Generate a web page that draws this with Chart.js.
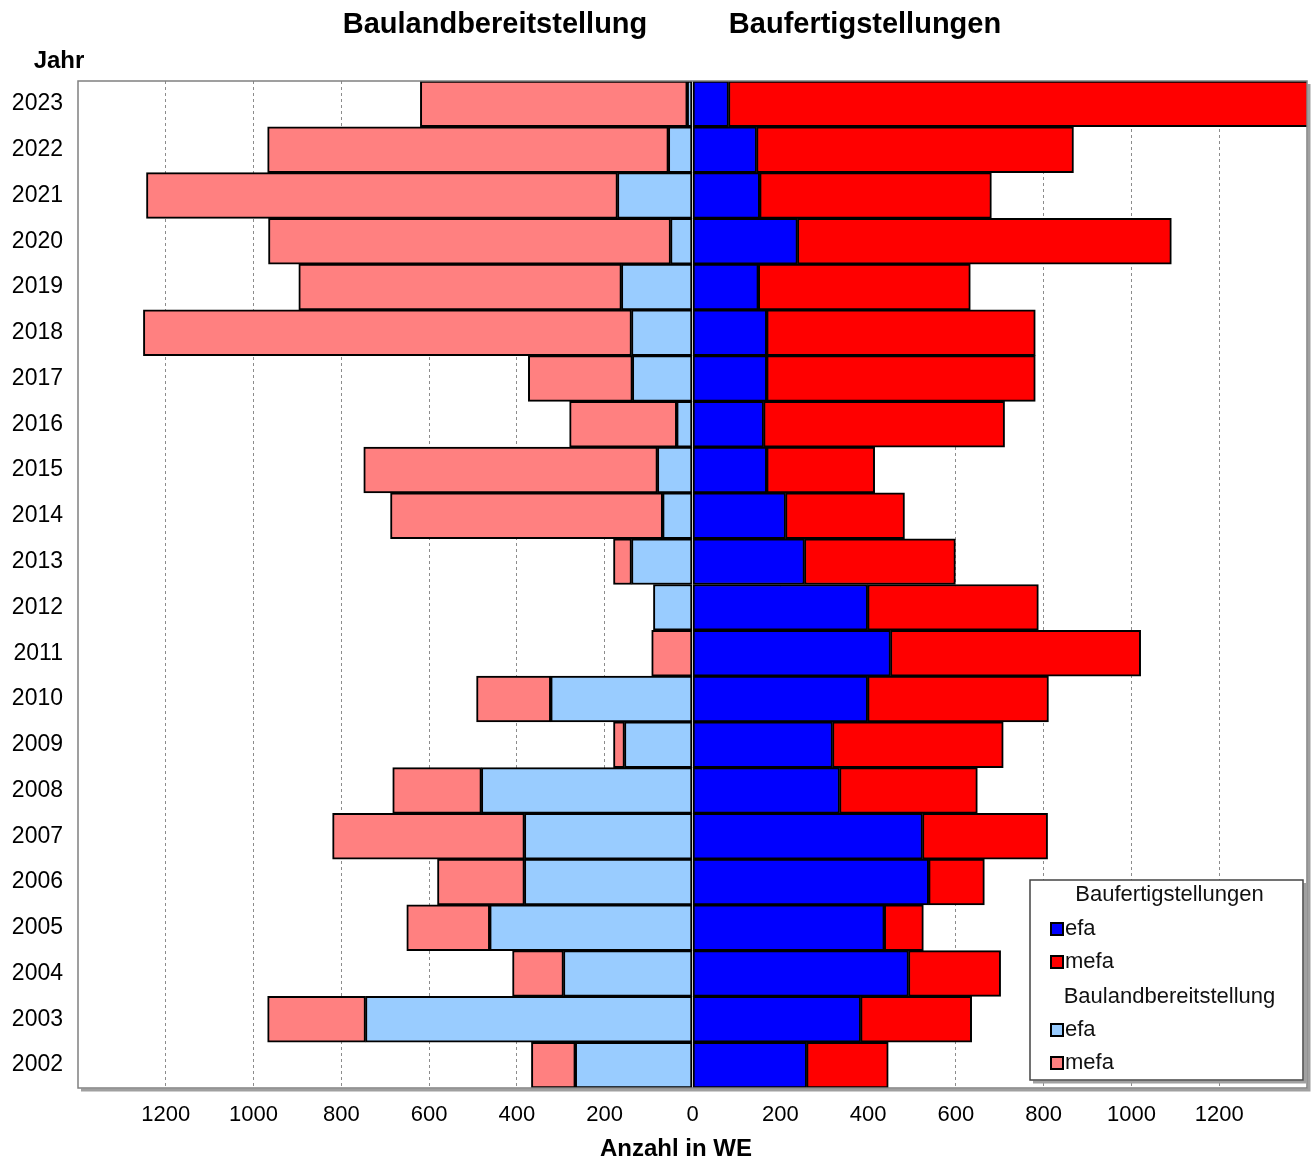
<!DOCTYPE html>
<html lang="de">
<head>
<meta charset="utf-8">
<title>Baulandbereitstellung und Baufertigstellungen</title>
<script src="https://cdn.jsdelivr.net/npm/chart.js@4.4.1/dist/chart.umd.min.js"></script>
<style>
    html, body { margin: 0; padding: 0; background: #fff; }
    #wrap { width: 1311px; height: 1160px; }
</style>
</head>
<body>
<div id="wrap"><canvas id="myChart" width="1311" height="1160"></canvas></div>
<script>
// Jahre von oben nach unten
var jahre = ['2023', '2022', '2021', '2020', '2019', '2018', '2017', '2016', '2015', '2014', '2013',
    '2012', '2011', '2010', '2009', '2008', '2007', '2006', '2005', '2004', '2003', '2002'];

// Baufertigstellungen (rechte Seite)
var fertigEfa = [82, 146, 153, 239, 150, 169, 169, 162, 169, 212, 255,
    399, 451, 399, 319, 335, 524, 538, 437, 492, 383, 260];
var fertigMefa = [1370, 722, 528, 852, 483, 612, 612, 549, 246, 271, 344,
    389, 570, 412, 389, 314, 285, 127, 89, 210, 253, 186];

// Baulandbereitstellung (linke Seite, wird negativ gezeichnet)
var baulandEfa = [12, 55, 171, 50, 162, 139, 137, 36, 80, 68, 139,
    89, null, 323, 155, 481, 383, 383, 462, 294, 745, 267];
var baulandMefa = [608, 913, 1073, 916, 735, 1112, 237, 244, 669, 620, 41,
    null, 93, 169, 25, 202, 437, 198, 189, 116, 223, 100];

// Achse
var xMin = -1400;
var xMax = 1400;
var xTicks = [-1200, -1000, -800, -600, -400, -200, 0, 200, 400, 600, 800, 1000, 1200];

var schrift = "'Liberation Sans', Arial, sans-serif";

function negativ(werte) {
    return werte.map(function (v) { return v === null ? null : -v; });
}

// Titel, Rahmen und Legende direkt auf das Canvas zeichnen
var extras = {
    id: 'extras',
    afterDraw: function (chart) {
        var ctx = chart.ctx;
        var a = chart.chartArea;
        ctx.save();

        // Rahmen um die Zeichenfläche mit leichtem Schatten
        ctx.strokeStyle = '#a0a0a0';
        ctx.lineWidth = 3;
        ctx.beginPath();
        ctx.moveTo(a.left + 3, a.bottom + 2);
        ctx.lineTo(a.right + 2, a.bottom + 2);
        ctx.lineTo(a.right + 2, a.top + 3);
        ctx.stroke();
        ctx.strokeStyle = '#808080';
        ctx.lineWidth = 1.5;
        ctx.strokeRect(a.left, a.top, a.right - a.left, a.bottom - a.top);

        // Überschriften
        ctx.fillStyle = '#000';
        ctx.textBaseline = 'middle';
        ctx.textAlign = 'center';
        ctx.font = 'bold 29px ' + schrift;
        ctx.fillText('Baulandbereitstellung', 495, 25);
        ctx.fillText('Baufertigstellungen', 865, 25);
        ctx.font = 'bold 24px ' + schrift;
        ctx.fillText('Jahr', 59, 61);
        ctx.fillText('Anzahl in WE', 676, 1149);

        // Legende
        var lx = 1030, ly = 880, lw = 273, lh = 200;
        ctx.strokeStyle = '#a0a0a0';
        ctx.lineWidth = 3;
        ctx.beginPath();
        ctx.moveTo(lx + 3, ly + lh + 2);
        ctx.lineTo(lx + lw + 2, ly + lh + 2);
        ctx.lineTo(lx + lw + 2, ly + 3);
        ctx.stroke();
        ctx.fillStyle = '#fff';
        ctx.fillRect(lx, ly, lw, lh);
        ctx.strokeStyle = '#444';
        ctx.lineWidth = 1.5;
        ctx.strokeRect(lx, ly, lw, lh);

        var eintraege = [
            { text: 'Baufertigstellungen', kopf: true, y: 895 },
            { text: 'efa', farbe: chart.data.datasets[2].backgroundColor, y: 929 },
            { text: 'mefa', farbe: chart.data.datasets[3].backgroundColor, y: 962 },
            { text: 'Baulandbereitstellung', kopf: true, y: 997 },
            { text: 'efa', farbe: chart.data.datasets[0].backgroundColor, y: 1030 },
            { text: 'mefa', farbe: chart.data.datasets[1].backgroundColor, y: 1063 }
        ];
        ctx.font = '22px ' + schrift;
        eintraege.forEach(function (e) {
            ctx.fillStyle = '#111';
            if (e.kopf) {
                ctx.textAlign = 'center';
                ctx.fillText(e.text, lx + lw / 2 + 3, e.y);
            } else {
                ctx.fillStyle = e.farbe;
                ctx.fillRect(lx + 21, e.y - 6, 12, 12);
                ctx.strokeStyle = '#000';
                ctx.lineWidth = 2;
                ctx.strokeRect(lx + 21, e.y - 6, 12, 12);
                ctx.fillStyle = '#111';
                ctx.textAlign = 'left';
                ctx.fillText(e.text, lx + 35, e.y);
            }
        });
        ctx.restore();
    }
};

var ctx = document.getElementById('myChart').getContext('2d');
var myChart = new Chart(ctx, {
    type: 'bar',
    data: {
        labels: jahre,
        datasets: [
            { label: 'Baulandbereitstellung efa', data: negativ(baulandEfa), backgroundColor: '#99ccff' },
            { label: 'Baulandbereitstellung mefa', data: negativ(baulandMefa), backgroundColor: '#ff8080' },
            { label: 'Baufertigstellungen efa', data: fertigEfa, backgroundColor: '#0000ff' },
            { label: 'Baufertigstellungen mefa', data: fertigMefa, backgroundColor: '#ff0000' }
        ].map(function (ds) {
            ds.stack = 'a';
            ds.borderColor = '#000';
            ds.borderWidth = 2;
            ds.borderSkipped = false;
            ds.barPercentage = 1;
            ds.categoryPercentage = 1;
            return ds;
        })
    },
    options: {
        indexAxis: 'y',
        responsive: false,
        animation: false,
        layout: { padding: { top: 81, right: 4, left: 0, bottom: 0 } },
        plugins: {
            legend: { display: false },
            title: { display: false },
            tooltip: { enabled: false }
        },
        scales: {
            x: {
                stacked: true,
                min: xMin,
                max: xMax,
                afterBuildTicks: function (scale) {
                    scale.ticks = xTicks.map(function (v) { return { value: v }; });
                },
                afterFit: function (scale) { scale.height = 72; },
                ticks: {
                    padding: 14,
                    color: '#000',
                    font: { family: schrift, size: 22 },
                    callback: function (v) { return Math.abs(v); }
                },
                grid: {
                    drawTicks: false,
                    lineWidth: 1,
                    color: function (c) { return c.tick && c.tick.value === 0 ? 'rgba(0,0,0,0)' : '#8c8c8c'; }
                },
                border: { display: false, dash: [3, 3] }
            },
            y: {
                stacked: true,
                afterFit: function (scale) { scale.width = 78; },
                ticks: {
                    padding: 15,
                    color: '#000',
                    font: { family: schrift, size: 23 }
                },
                grid: { display: false, drawTicks: false },
                border: { display: false }
            }
        }
    },
    plugins: [extras]
});
</script>
</body>
</html>
